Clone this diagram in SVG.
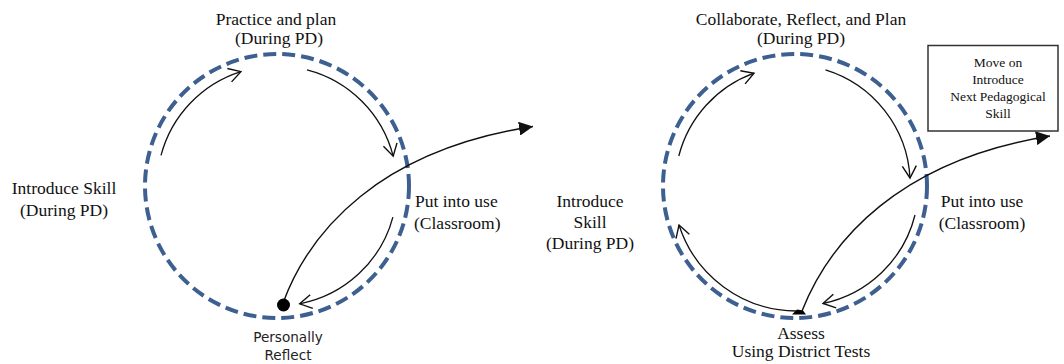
<svg xmlns="http://www.w3.org/2000/svg" width="1064" height="364" viewBox="0 0 1064 364">
<style>
.ring{fill:none;stroke:#3d6090;stroke-width:4;stroke-dasharray:13 6}
.arc{fill:none;stroke:#111;stroke-width:1.3}
.big{fill:none;stroke:#111;stroke-width:1.4}
.t{font-family:"Liberation Serif","Times New Roman",serif;font-size:17.5px;fill:#111}
.s{font-family:"DejaVu Sans",Verdana,sans-serif;font-size:13.6px;fill:#222}
.b{font-family:"Liberation Serif","Times New Roman",serif;font-size:13.5px;fill:#111}
</style>
<defs>
<marker id="open" markerUnits="userSpaceOnUse" markerWidth="18" markerHeight="18" viewBox="0 0 18 18" refX="14" refY="9" orient="auto">
<path d="M2,2 L14,9 L2,16" fill="none" stroke="#111" stroke-width="1.4"/>
</marker>
<marker id="solid" markerUnits="userSpaceOnUse" markerWidth="16" markerHeight="14" viewBox="0 0 16 14" refX="14" refY="7" orient="auto">
<path d="M0,0 L14,7 L0,14 Z" fill="#111"/>
</marker>
</defs>

<g id="cycle-left">
<circle class="ring" cx="277" cy="186" r="132"/>
</g>
<g id="cycle-right">
<circle class="ring" cx="795" cy="186" r="132"/>
</g>

<g id="connectors">
<path class="arc" d="M161,155.4 A120,120 0 0 1 240.9,71.6" marker-end="url(#open)"/>
<path class="arc" d="M307,69.8 A120,120 0 0 1 393.2,156.2" marker-end="url(#open)"/>
<path class="arc" d="M392.9,217.1 A120,120 0 0 1 299.7,303.8" marker-end="url(#open)"/>
<path class="big" d="M283,303 C310,230 380,150 533,126.5" marker-end="url(#solid)"/>

<path class="arc" d="M678.8,156 A120,120 0 0 1 754,73.2" marker-end="url(#open)"/>
<path class="arc" d="M825.5,69.9 A120,120 0 0 1 910,178" marker-end="url(#open)"/>
<path class="arc" d="M915,215 A120,120 0 0 1 823,303.5" marker-end="url(#open)"/>
<path class="arc" d="M796,311 A124,124 0 0 1 679,225" marker-end="url(#open)"/>
<path class="big" d="M802,311 C830,240 900,160 1050,136" marker-end="url(#solid)"/>
</g>

<g id="node-left-dot">
<circle cx="283.5" cy="305" r="6.5" fill="#000"/>
</g>
<g id="node-right-mark">
<path d="M792,314.5 L797,309.5 L803,310.5 L806,314.5 Z" fill="#000"/>
</g>

<g id="label-left-intro">
<text class="t" x="64" y="194" text-anchor="middle">Introduce Skill</text>
<text class="t" x="64" y="216" text-anchor="middle">(During PD)</text>
</g>
<g id="label-left-practice">
<text class="t" x="276" y="25" text-anchor="middle">Practice and plan</text>
<text class="t" x="279" y="44" text-anchor="middle">(During PD)</text>
</g>
<g id="label-left-use">
<text class="t" x="415" y="207">Put into use</text>
<text class="t" x="414" y="229">(Classroom)</text>
</g>
<g id="label-left-reflect">
<text class="s" x="288" y="342" text-anchor="middle">Personally</text>
<text class="s" x="288" y="360" text-anchor="middle">Reflect</text>
</g>

<g id="label-right-intro">
<text class="t" x="590" y="207" text-anchor="middle">Introduce</text>
<text class="t" x="590" y="228" text-anchor="middle">Skill</text>
<text class="t" x="590" y="249" text-anchor="middle">(During PD)</text>
</g>
<g id="label-right-collab">
<text class="t" x="801" y="25" text-anchor="middle">Collaborate, Reflect, and Plan</text>
<text class="t" x="801" y="44" text-anchor="middle">(During PD)</text>
</g>
<g id="label-right-use">
<text class="t" x="982" y="207" text-anchor="middle">Put into use</text>
<text class="t" x="982" y="229" text-anchor="middle">(Classroom)</text>
</g>
<g id="label-right-assess">
<text class="t" x="801" y="339" text-anchor="middle">Assess</text>
<text class="t" x="801" y="357" text-anchor="middle">Using District Tests</text>
</g>

<g id="node-move-on">
<rect x="928" y="45.5" width="130" height="85.5" fill="#fff" stroke="#333" stroke-width="1.5"/>
<text class="b" x="998" y="67" text-anchor="middle">Move on</text>
<text class="b" x="998" y="84" text-anchor="middle">Introduce</text>
<text class="b" x="998" y="101" text-anchor="middle">Next Pedagogical</text>
<text class="b" x="998" y="118" text-anchor="middle">Skill</text>
</g>
</svg>
